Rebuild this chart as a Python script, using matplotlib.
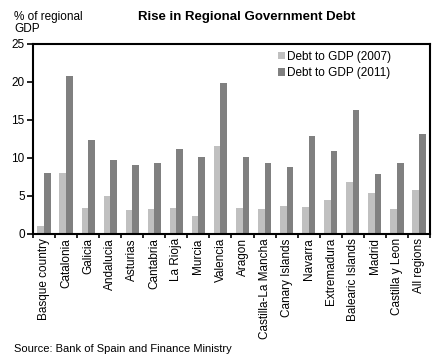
import matplotlib
matplotlib.use("Agg")
import matplotlib.pyplot as plt
import numpy as np

regions = ["Basque country", "Catalonia", "Galicia", "Andalucia", "Asturias", "Cantabria",
           "La Rioja", "Murcia", "Valencia", "Aragon", "Castilla-La Mancha", "Canary Islands",
           "Navarra", "Extremadura", "Balearic Islands", "Madrid", "Castilla y Leon", "All regions"]
debt_2007 = [1.0, 8.0, 3.4, 5.0, 3.2, 3.3, 3.4, 2.4, 11.6, 3.4, 3.3, 3.7, 3.6, 4.5, 6.8, 5.4, 3.3, 5.8]
debt_2011 = [8.0, 20.8, 12.4, 9.7, 9.1, 9.3, 11.2, 10.1, 19.9, 10.1, 9.3, 8.8, 12.9, 10.9, 16.3, 7.9, 9.3, 13.2]
yticks = [0, 5, 10, 15, 20, 25]

plt.rcParams['font.family'] = ['Liberation Sans', 'DejaVu Sans']

fig = plt.figure(figsize=(4.4, 3.59), dpi=100)
ax = fig.add_axes([33/440, 1 - 234/359, (430-33)/440, (234-44)/359])

x = np.arange(len(regions))
w = 0.3
ax.bar(x - w/2, debt_2007, width=w, color="#c0c0c0", label="Debt to GDP (2007)")
ax.bar(x + w/2, debt_2011, width=w, color="#808080", label="Debt to GDP (2011)")

ax.set_xlim(-0.5, len(regions) - 0.5)
ax.set_ylim(0, 25)
ax.set_yticks(yticks)
ax.set_yticklabels([str(v) for v in yticks], fontsize=8.5)
ax.set_xticks(x)
ax.set_xticklabels(regions, rotation=90, fontsize=8.5)
ax.tick_params(axis='x', length=0, pad=3)
ax.set_xticks(np.arange(len(regions) + 1) - 0.5, minor=True)
ax.tick_params(axis='x', which='minor', length=3, width=1.2, direction='out')
ax.tick_params(axis='y', length=4, width=1.2, direction='out', pad=2)
for s in ax.spines.values():
    s.set_linewidth(1.5)
    s.set_color("black")

leg = ax.legend(loc="upper right", bbox_to_anchor=(0.93, 1.02), frameon=False, fontsize=8.5,
                handlelength=0.6, handleheight=0.6, handletextpad=0.2, labelspacing=0.35)

fig.text(247/440, 1 - 17/359, "Rise in Regional Government Debt", ha="center", va="center",
         fontsize=9.5, fontweight="bold")
fig.text(14/440, 1 - 11/359, "% of regional\nGDP", ha="left", va="top", fontsize=8.5, linespacing=1.0)
fig.text(14/440, 1 - 349/359, "Source: Bank of Spain and Finance Ministry", ha="left", va="center",
         fontsize=8)

fig.savefig("out.png", dpi=100)
